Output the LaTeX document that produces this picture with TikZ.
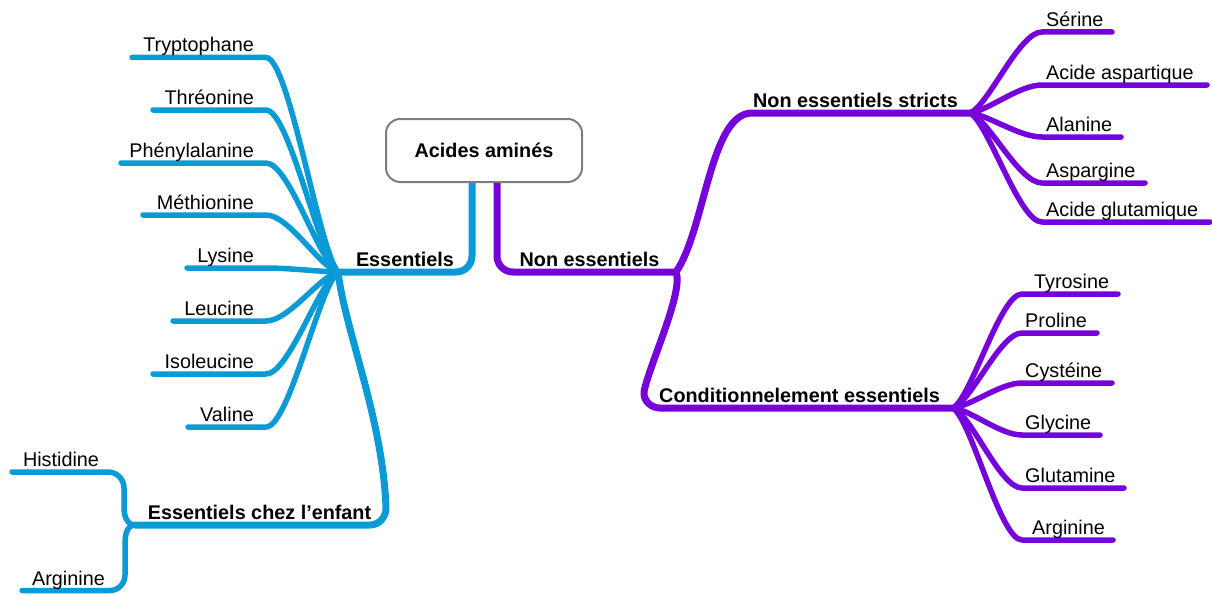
\documentclass[tikz,border=0pt]{standalone}
\usepackage{fontspec}
\setmainfont{Liberation Sans}
\definecolor{mmblue}{RGB}{10,155,215}
\definecolor{mmpurple}{RGB}{118,4,218}
\definecolor{boxgray}{RGB}{125,125,125}
\begin{document}
\begin{tikzpicture}[x=1pt,y=-1pt,
  bmain/.style={draw=mmblue,line width=7pt,line cap=round,line join=round},
  pmain/.style={draw=mmpurple,line width=7pt,line cap=round,line join=round},
  bleaf/.style={draw=mmblue,line width=5.5pt,line cap=round,line join=round},
  pleaf/.style={draw=mmpurple,line width=5.5pt,line cap=round,line join=round},
  leaflbl/.style={inner sep=0pt,font=\fontsize{19.8}{23}\selectfont},
  mainlbl/.style={inner sep=0pt,anchor=base,font=\fontsize{19.8}{23}\selectfont\bfseries},
  rootbox/.style={draw=boxgray,line width=2pt,fill=white,rounded corners=14pt,
    minimum width=196pt,minimum height=63pt,inner sep=0pt,
    font=\fontsize{19.8}{23}\selectfont\bfseries}
]
\useasboundingbox (0,0) rectangle (1212,594);

% root
\node[rootbox] (root) at (484,150.5) {Acides aminés};
\coordinate (bx) at (472,0);
\coordinate (px) at (497,0);

% hubs
\coordinate (ehub) at (338,272);
\coordinate (nhub) at (676,272);
\coordinate (nshub) at (970,113);
\coordinate (cehub) at (953,408);
\coordinate (ekhub) at (135,525);

% main branches
\draw[bmain,line cap=butt] (root.south -| bx) -- (472,256) to[out=-90,in=0] (456,272) -- (ehub);
\draw[pmain,line cap=butt] (root.south -| px) -- (497,256) to[out=-90,in=180] (513,272) -- (nhub);
\draw[pmain] (nhub) .. controls (705,230) and (710,113) .. (752,113) -- (nshub);
\draw[pmain] (nhub) .. controls (684,292) and (648,368) .. (644,392) to[out=-95,in=180] (660,408) -- (cehub);
\draw[bmain] (ehub) .. controls (345,330) and (383,420) .. (386,508) to[out=-90,in=0] (370,525) -- (ekhub);

% main labels
\node[mainlbl] (lEss) at (405,266) {Essentiels};
\node[mainlbl] (lNon) at (589.5,266) {Non essentiels};
\node[mainlbl] (lNS) at (855.5,107) {Non essentiels stricts};
\node[mainlbl] (lCE) at (799.5,402) {Conditionnelement essentiels};
\node[mainlbl] (lEK) at (259.5,519) {Essentiels chez l’enfant};

% left leaves (Essentiels)
\foreach[count=\i] \txt/\y/\xs in {Tryptophane/57.5/132, Thréonine/110/153,
  Phénylalanine/163/121, Méthionine/215/143, Lysine/268/187, Leucine/321/173,
  Isoleucine/374/153, Valine/427/188}{
  \coordinate (ble\i) at (\xs,\y);
  \draw[bleaf] (ehub) .. controls (319,{272+0.1*(\y-272)}) and (289,\y) .. (266,\y) -- (ble\i);
  \node[leaflbl,anchor=base east] (blt\i) at (254,\y-5.5) {\txt};
}

% enfant leaves
\coordinate (hisE) at (12,472);
\coordinate (argE) at (22,590.5);
\draw[bleaf] (ekhub) to[out=180,in=-90] (124,508) -- (124,488) to[out=90,in=0] (108,472) -- (hisE);
\draw[bleaf] (ekhub) to[out=180,in=90] (125,544) -- (125,575) to[out=-90,in=0] (110,590.5) -- (argE);
\node[leaflbl,anchor=base] (hisT) at (61,466) {Histidine};
\node[leaflbl,anchor=base] (argT) at (68.5,585.5) {Arginine};

% Non essentiels stricts leaves
\foreach[count=\i] \txt/\y/\xe in {Sérine/32/1112, Acide aspartique/85/1207,
  Alanine/137/1121, Aspargine/183/1145, Acide glutamique/222/1210}{
  \coordinate (nse\i) at (\xe,\y);
  \draw[pleaf] (nshub) .. controls (989,{113+0.1*(\y-113)}) and (1019,\y) .. (1042,\y) -- (nse\i);
  \node[leaflbl,anchor=base west] (nst\i) at (1046,\y-5.5) {\txt};
}

% Conditionnellement essentiels leaves
\foreach[count=\i] \txt/\y/\xe/\xt in {Tyrosine/294/1118/1034, Proline/333/1097/1025,
  Cystéine/383/1112/1025, Glycine/435/1100/1025, Glutamine/488/1124/1025,
  Arginine/540/1113/1032}{
  \coordinate (cee\i) at (\xe,\y);
  \draw[pleaf] (cehub) .. controls (972,{408+0.1*(\y-408)}) and (1000,\y) .. (1022,\y) -- (cee\i);
  \node[leaflbl,anchor=base west] (cet\i) at (\xt,\y-5.5) {\txt};
}
\end{tikzpicture}
\end{document}
